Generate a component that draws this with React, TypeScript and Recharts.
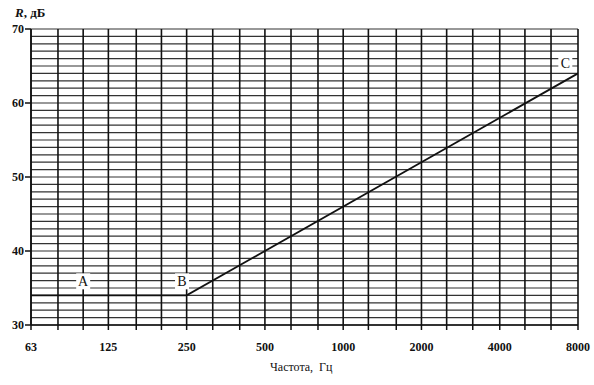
import { LineChart, Line, XAxis, YAxis, CartesianGrid, ReferenceDot } from "recharts";

// characteristic A-B-C
const freqs = [63, 250, 8000];
const levels = [34, 34, 64];

// 1/3-octave grid, octave labels
const thirdOctaveTicks = [63, 80, 100, 125, 160, 200, 250, 315, 400, 500, 630, 800, 1000, 1250, 1600, 2000, 2500, 3150, 4000, 5000, 6300, 8000];
const octaveLabels = [63, 125, 250, 500, 1000, 2000, 4000, 8000];

const yTicks = [30, 40, 50, 60, 70];
const yGrid = [30, 31, 32, 33, 34, 35, 36, 37, 38, 39, 40, 41, 42, 43, 44, 45, 46, 47, 48, 49, 50, 51, 52, 53, 54, 55, 56, 57, 58, 59, 60, 61, 62, 63, 64, 65, 66, 67, 68, 69, 70];

const pointNames = ["A", "B", "C"];
const pointFreqs = [100, 240, 7150];
const pointLevels = [35.9, 35.9, 65.3];

const data = freqs.map((f, i) => ({ f, r: levels[i] }));
const font = "'Liberation Serif', 'Times New Roman', serif";

const letterBox = (name: string) => (props: any) => {
  const { cx, cy } = props;
  return (
    <g>
      <rect x={cx - 7} y={cy - 8} width={14} height={16} fill="#fff" />
      <text x={cx} y={cy} textAnchor="middle" dominantBaseline="central" fontSize={14} fontFamily={font} fill="#111">
        {name}
      </text>
    </g>
  );
};

export default function App() {
  return (
    <div style={{ position: "absolute", left: 0, top: 0, width: 594, height: 385, background: "#fff" }}>
      <LineChart width={594} height={385} data={data} margin={{ top: 29, right: 16, bottom: 30, left: 0 }}>
        <CartesianGrid stroke="#333" strokeWidth={1.2} vertical={false} horizontalValues={yGrid} />
        <CartesianGrid stroke="#111" strokeWidth={1.6} horizontal={false} verticalValues={thirdOctaveTicks} />
        <XAxis
          dataKey="f"
          type="number"
          scale="log"
          domain={[63, 8000]}
          ticks={thirdOctaveTicks}
          interval={0}
          allowDataOverflow
          height={30}
          tickSize={5}
          tickMargin={12}
          axisLine={{ stroke: "#111", strokeWidth: 1.5 }}
          tickLine={{ stroke: "#111", strokeWidth: 1.5 }}
          tickFormatter={(v: number) => (octaveLabels.includes(v) ? String(v) : "")}
          tick={{ fill: "#111", fontSize: 12, fontWeight: "bold", fontFamily: font }}
        />
        <YAxis
          type="number"
          domain={[30, 70]}
          ticks={yTicks}
          interval={0}
          width={31}
          tickSize={6}
          tickMargin={1}
          axisLine={{ stroke: "#111", strokeWidth: 1.5 }}
          tickLine={{ stroke: "#111", strokeWidth: 1.5 }}
          tick={{ fill: "#111", fontSize: 12, fontWeight: "bold", fontFamily: font }}
        />
        <Line type="linear" dataKey="r" stroke="#111" strokeWidth={1.8} dot={false} isAnimationActive={false} />
        {pointNames.map((n, i) => (
          <ReferenceDot key={n} x={pointFreqs[i]} y={pointLevels[i]} r={0} shape={letterBox(n)} />
        ))}
      </LineChart>
      <div style={{ position: "absolute", left: 15, top: 5, fontFamily: font, fontSize: 13, fontWeight: "bold", color: "#111" }}>
        <i>R</i>, дБ
      </div>
      <div style={{ position: "absolute", left: 270, top: 360, fontFamily: font, fontSize: 12, color: "#111" }}>
        Частота,&nbsp; Гц
      </div>
    </div>
  );
}
